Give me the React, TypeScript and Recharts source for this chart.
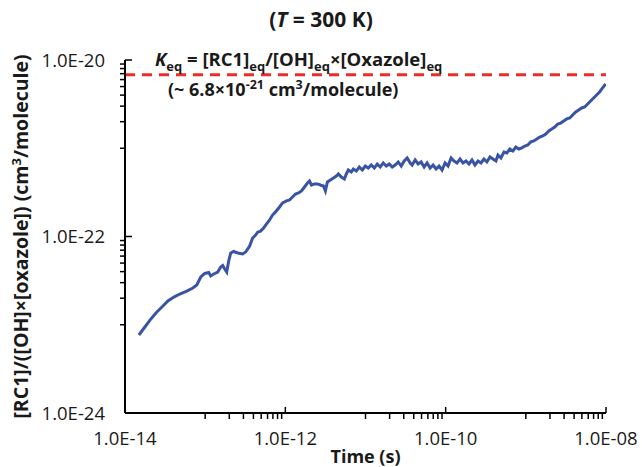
import React from 'react';
import { LineChart, Line, XAxis, YAxis, ReferenceLine, Label } from 'recharts';

// Time (s)
const times = [
  1.49e-14, 1.77e-14, 2.05e-14, 2.43e-14, 2.89e-14, 3.43e-14, 4.07e-14, 4.83e-14, 5.9e-14, 7.01e-14,
  7.86e-14, 8.32e-14, 8.82e-14, 9.89e-14, 1.108e-13, 1.174e-13, 1.28e-13, 1.435e-13, 1.563e-13, 1.655e-13,
  1.753e-13, 1.857e-13, 1.966e-13, 2.082e-13, 2.269e-13, 2.545e-13, 2.936e-13, 3.199e-13, 3.587e-13, 3.908e-13,
  4.26e-13, 4.51e-13, 4.91e-13, 5.36e-13, 5.84e-13, 6.36e-13, 6.93e-13, 7.55e-13, 8.47e-13, 9.23e-13,
  1.035e-12, 1.128e-12, 1.229e-12, 1.34e-12, 1.46e-12, 1.59e-12, 1.733e-12, 1.889e-12, 2.0e-12, 2.12e-12,
  2.31e-12, 2.515e-12, 2.74e-12, 2.99e-12, 3.16e-12, 3.35e-12, 3.65e-12, 3.98e-12, 4.33e-12, 4.59e-12,
  5.0e-12, 5.45e-12, 5.77e-12, 6.11e-12, 6.66e-12, 7.05e-12, 7.68e-12, 8.37e-12, 9.13e-12, 9.94e-12,
  1.083e-11, 1.18e-11, 1.287e-11, 1.402e-11, 1.528e-11, 1.665e-11, 1.815e-11, 1.977e-11, 2.154e-11, 2.348e-11,
  2.56e-11, 2.79e-11, 3.04e-11, 3.31e-11, 3.61e-11, 3.82e-11, 4.16e-11, 4.54e-11, 4.94e-11, 5.39e-11,
  5.87e-11, 6.4e-11, 6.97e-11, 7.6e-11, 8.28e-11, 9.02e-11, 9.83e-11, 1.071e-10, 1.168e-10, 1.272e-10,
  1.386e-10, 1.511e-10, 1.646e-10, 1.794e-10, 1.954e-10, 2.13e-10, 2.32e-10, 2.53e-10, 2.76e-10, 3.0e-10,
  3.27e-10, 3.57e-10, 3.89e-10, 4.24e-10, 4.49e-10, 4.89e-10, 5.33e-10, 5.8e-10, 6.32e-10, 6.89e-10,
  7.51e-10, 8.18e-10, 8.92e-10, 9.72e-10, 1.059e-9, 1.154e-9, 1.257e-9, 1.37e-9, 1.493e-9, 1.627e-9,
  1.774e-9, 1.933e-9, 2.106e-9, 2.295e-9, 2.5e-9, 2.725e-9, 2.97e-9, 3.24e-9, 3.53e-9, 3.84e-9,
  4.19e-9, 4.56e-9, 4.97e-9, 5.42e-9, 5.9e-9, 6.43e-9, 7.01e-9, 7.64e-9, 8.32e-9, 9.07e-9,
  9.89e-9,
];

// [RC1]/([OH]x[oxazole]) (cm3/molecule)
const ratios = [
  7.65e-24, 9.43e-24, 1.13e-23, 1.36e-23, 1.59e-23, 1.86e-23, 2.06e-23, 2.23e-23, 2.41e-23, 2.61e-23,
  2.82e-23, 3.13e-23, 3.48e-23, 3.81e-23, 3.91e-23, 3.57e-23, 3.76e-23, 3.96e-23, 4.51e-23, 4.69e-23,
  4.28e-23, 3.96e-23, 5.28e-23, 6.5e-23, 6.76e-23, 6.5e-23, 6.33e-23, 6.67e-23, 7.8e-23, 9.62e-23,
  1.04e-22, 1.12e-22, 1.15e-22, 1.25e-22, 1.39e-22, 1.54e-22, 1.75e-22, 1.9e-22, 2.16e-22, 2.4e-22,
  2.53e-22, 2.59e-22, 2.8e-22, 3.03e-22, 3.11e-22, 3.28e-22, 3.64e-22, 4.04e-22, 4.25e-22, 3.83e-22,
  3.94e-22, 3.94e-22, 3.83e-22, 3.73e-22, 3.28e-22, 4.15e-22, 4.37e-22, 4.6e-22, 4.85e-22, 5.11e-22,
  4.72e-22, 4.48e-22, 5.11e-22, 5.67e-22, 5.38e-22, 5.82e-22, 5.52e-22, 6.13e-22, 5.67e-22, 6.29e-22,
  5.97e-22, 6.46e-22, 5.97e-22, 6.63e-22, 6.13e-22, 6.81e-22, 6.29e-22, 6.63e-22, 6.13e-22, 6.46e-22,
  6.99e-22, 6.29e-22, 7.17e-22, 7.75e-22, 6.81e-22, 6.46e-22, 7.36e-22, 6.63e-22, 6.99e-22, 6.13e-22,
  6.81e-22, 5.97e-22, 6.46e-22, 5.82e-22, 6.29e-22, 5.67e-22, 6.81e-22, 6.29e-22, 7.75e-22, 7.17e-22,
  6.81e-22, 7.55e-22, 6.81e-22, 7.17e-22, 6.63e-22, 7.36e-22, 6.46e-22, 7.17e-22, 6.81e-22, 7.55e-22,
  6.99e-22, 7.96e-22, 7.55e-22, 7.17e-22, 8.38e-22, 7.75e-22, 9.07e-22, 8.84e-22, 9.8e-22, 9.31e-22,
  1.03e-21, 9.8e-22, 1.01e-21, 1.06e-21, 1.09e-21, 1.18e-21, 1.21e-21, 1.27e-21, 1.34e-21, 1.38e-21,
  1.45e-21, 1.57e-21, 1.65e-21, 1.74e-21, 1.88e-21, 1.93e-21, 2.04e-21, 2.15e-21, 2.2e-21, 2.38e-21,
  2.58e-21, 2.71e-21, 2.86e-21, 2.93e-21, 3.17e-21, 3.43e-21, 3.71e-21, 4.01e-21, 4.34e-21, 4.82e-21,
  5.35e-21,
];

const xMajorTicks = [1e-14, 1e-12, 1e-10, 1e-8];
const xMinorTicks = [
  1e-13, 2e-13, 3e-13, 4e-13, 5e-13, 6e-13, 7e-13, 8e-13, 9e-13,
  1e-11, 2e-11, 3e-11, 4e-11, 5e-11, 6e-11, 7e-11, 8e-11, 9e-11,
  1e-9, 2e-9, 3e-9, 4e-9, 5e-9, 6e-9, 7e-9, 8e-9, 9e-9,
];
const yMajorTicks = [1e-24, 1e-22, 1e-20];
const yMinorTicks = [
  1e-23, 2e-23, 3e-23, 4e-23, 5e-23, 6e-23, 7e-23, 8e-23, 9e-23,
  1e-21, 2e-21, 3e-21, 4e-21, 5e-21, 6e-21, 7e-21, 8e-21, 9e-21,
];
const kEq = 6.8e-21;

const data = times.map((t, i) => ({ t, v: ratios[i] }));

const FONT = '"Open Sans", "Noto Sans", sans-serif';
const TEXT = '#1a1a1a';
const AXIS = '#000000';

const fmt = (v: number) =>
  v.toExponential(1).toUpperCase().replace(/E([+-])(\d)$/, 'E$10$2');

const X_TICK_MARGIN = 19;
const Y_TICK_MARGIN = 20;
const TICK_FONT = 18.5;

const XTick = (props: any) => {
  const { x, y, payload } = props;
  const axisY = y - X_TICK_MARGIN;
  const isMajor = xMajorTicks.includes(payload.value);
  return (
    <g>
      {isMajor ? (
        <line x1={x} x2={x} y1={axisY} y2={axisY - 6} stroke={AXIS} strokeWidth={1.5} />
      ) : (
        <line x1={x} x2={x} y1={axisY} y2={axisY + 6} stroke={AXIS} strokeWidth={1.5} />
      )}
      {isMajor && (
        <text x={x} y={y} dy="0.71em" textAnchor="middle" fontFamily={FONT} fontSize={TICK_FONT} fill={TEXT}>
          {fmt(payload.value)}
        </text>
      )}
    </g>
  );
};

const YTick = (props: any) => {
  const { x, y, payload } = props;
  const axisX = x + Y_TICK_MARGIN;
  const isMajor = yMajorTicks.includes(payload.value);
  return (
    <g>
      {isMajor ? (
        <line x1={axisX} x2={axisX + 7} y1={y} y2={y} stroke={AXIS} strokeWidth={1.5} />
      ) : (
        <line x1={axisX} x2={axisX - 5} y1={y} y2={y} stroke={AXIS} strokeWidth={1.5} />
      )}
      {isMajor && (
        <text x={x} y={y} dy="0.355em" textAnchor="end" fontFamily={FONT} fontSize={TICK_FONT} fill={TEXT}>
          {fmt(payload.value)}
        </text>
      )}
    </g>
  );
};

const YTitle = (props: any) => {
  const { viewBox } = props;
  const cx = viewBox.x + 28;
  const cy = viewBox.y + viewBox.height / 2;
  return (
    <text
      x={cx}
      y={cy}
      transform={`rotate(-90, ${cx}, ${cy})`}
      textAnchor="middle"
      fontFamily={FONT}
      fontWeight="bold"
      fontSize={19.5}
      fill={TEXT}
    >
      [RC1]/([OH]×[oxazole]) (cm<tspan dy={-7} fontSize={13}>3</tspan>
      <tspan dy={7}>/molecule)</tspan>
    </text>
  );
};

const XTitle = (props: any) => {
  const { viewBox } = props;
  return (
    <text
      x={viewBox.x + viewBox.width / 2}
      y={viewBox.y + 50}
      textAnchor="middle"
      fontFamily={FONT}
      fontWeight="bold"
      fontSize={18}
      fill={TEXT}
    >
      Time (s)
    </text>
  );
};

const KeqLabel = (props: any) => {
  const { viewBox } = props;
  const x0 = viewBox.x;
  const y0 = viewBox.y;
  const sub = { dy: 5, fontSize: 13 };
  return (
    <g fontFamily={FONT} fontWeight="bold" fill={TEXT}>
      <text x={x0 + 30} y={y0 - 9} fontSize={18.5}>
        <tspan fontStyle="italic">K</tspan>
        <tspan {...sub}>eq</tspan>
        <tspan dy={-5}> = [RC1]</tspan>
        <tspan {...sub}>eq</tspan>
        <tspan dy={-5}>/[OH]</tspan>
        <tspan {...sub}>eq</tspan>
        <tspan dy={-5}>×[Oxazole]</tspan>
        <tspan {...sub}>eq</tspan>
      </text>
      <text x={x0 + 43} y={y0 + 21} fontSize={18}>
        (~ 6.8×10
        <tspan dy={-7} fontSize={12.5}>-21</tspan>
        <tspan dy={7}> cm</tspan>
        <tspan dy={-7} fontSize={12.5}>3</tspan>
        <tspan dy={7}>/molecule)</tspan>
      </text>
    </g>
  );
};

export default function App() {
  return (
    <div style={{ position: 'absolute', left: 0, top: 0, width: 642, height: 467, background: '#fff' }}>
      <div
        style={{
          position: 'absolute',
          left: 0,
          top: 5,
          width: 642,
          textAlign: 'center',
          fontFamily: FONT,
          fontWeight: 'bold',
          fontSize: 21,
          color: TEXT,
          lineHeight: '28px',
        }}
      >
        (<i>T</i> = 300 K)
      </div>
      <LineChart
        width={642}
        height={467}
        data={data}
        margin={{ top: 60, right: 36, bottom: 0, left: 0 }}
        style={{ position: 'absolute', left: 0, top: 0 }}
      >
        <XAxis
          dataKey="t"
          type="number"
          scale="log"
          domain={[1e-14, 1e-8]}
          allowDataOverflow
          ticks={[...xMajorTicks, ...xMinorTicks]}
          interval={0}
          tickLine={false}
          tickSize={0}
          tickMargin={X_TICK_MARGIN}
          tick={<XTick />}
          axisLine={{ stroke: AXIS, strokeWidth: 2 }}
          height={54}
        >
          <Label content={<XTitle />} />
        </XAxis>
        <YAxis
          type="number"
          scale="log"
          domain={[1e-24, 1e-20]}
          allowDataOverflow
          ticks={[...yMajorTicks, ...yMinorTicks]}
          interval={0}
          tickLine={false}
          tickSize={0}
          tickMargin={Y_TICK_MARGIN}
          tick={<YTick />}
          axisLine={{ stroke: AXIS, strokeWidth: 2 }}
          width={125}
        >
          <Label content={<YTitle />} />
        </YAxis>
        <ReferenceLine y={kEq} stroke="#EE2B2B" strokeWidth={3} strokeDasharray="10 7">
          <Label content={<KeqLabel />} />
        </ReferenceLine>
        <Line
          type="linear"
          dataKey="v"
          stroke="#3A54A5"
          strokeWidth={3}
          dot={false}
          isAnimationActive={false}
        />
      </LineChart>
    </div>
  );
}
